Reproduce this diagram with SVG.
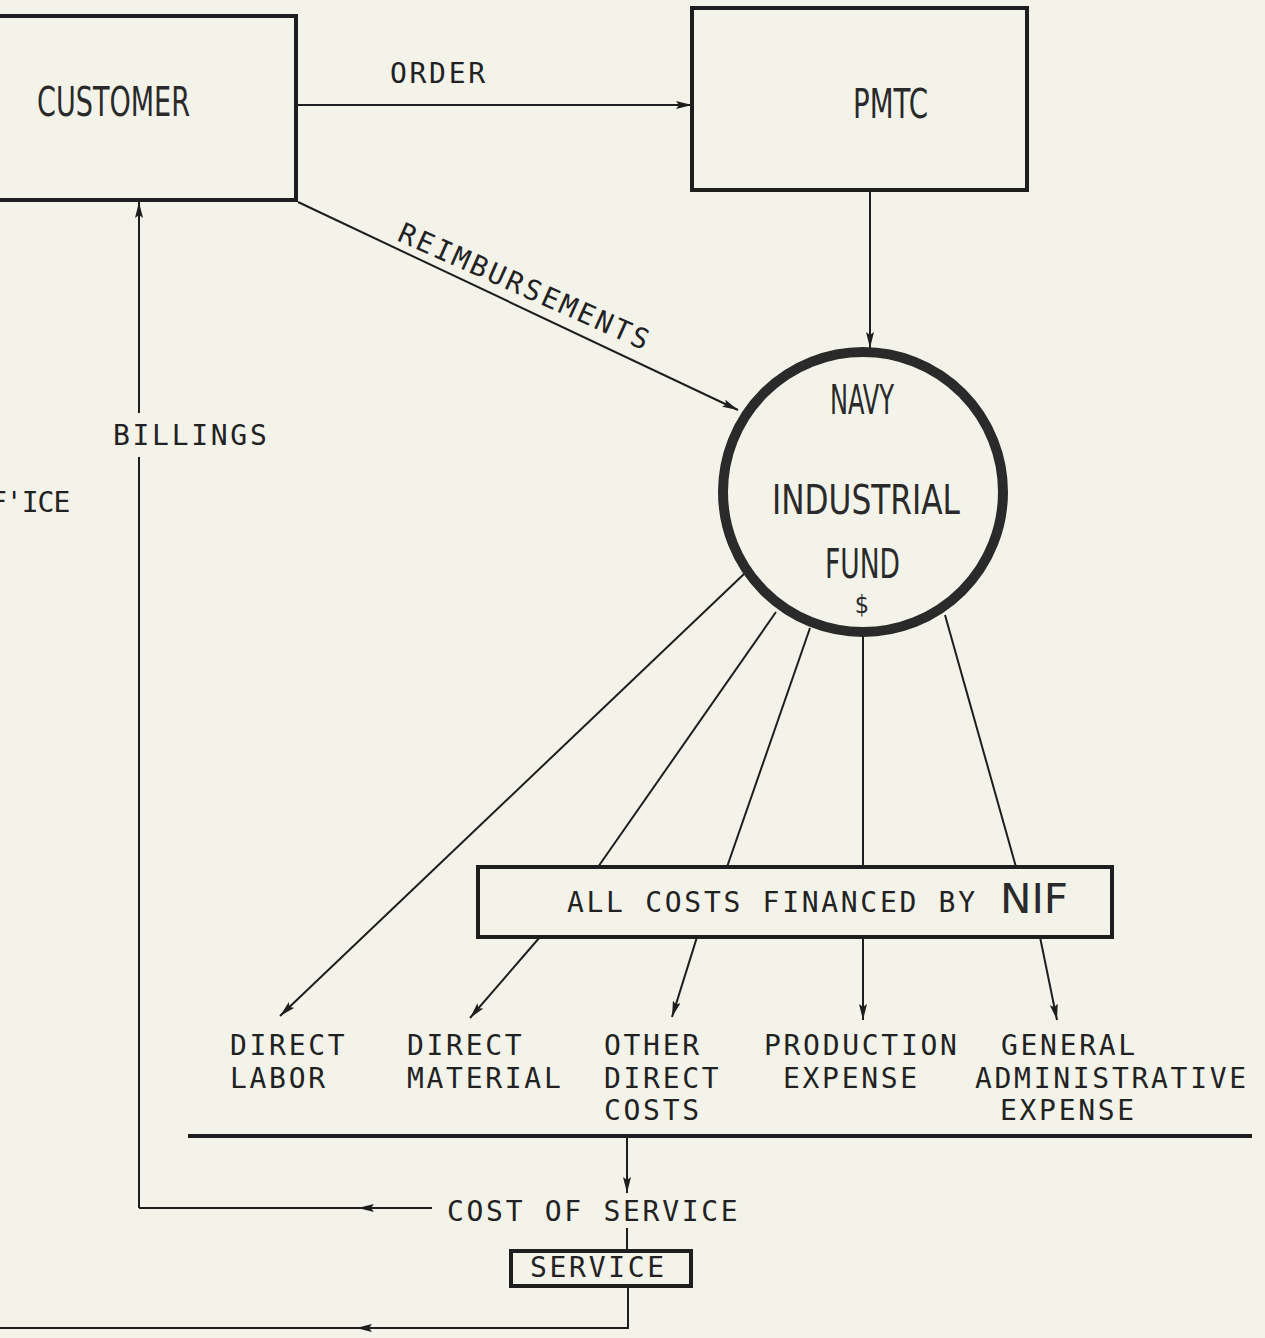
<svg xmlns="http://www.w3.org/2000/svg" width="1265" height="1338" viewBox="0 0 1265 1338">
<defs>
<marker id="ah" markerUnits="userSpaceOnUse" viewBox="0 0 16 8" refX="16" refY="4" markerWidth="16" markerHeight="8" orient="auto">
<path d="M0,0 L16,4 L0,8 L3,4 z" fill="#1e1e1e"/>
</marker>
<style>
.ln{stroke:#1e1e1e;stroke-width:2;fill:none}
.box{stroke:#1e1e1e;stroke-width:4;fill:none}
.mono{font-family:"DejaVu Sans Mono","Liberation Mono",monospace;font-size:28px;letter-spacing:2.7px;fill:#222}
.cond{font-family:"Liberation Sans Narrow","DejaVu Sans Condensed","DejaVu Sans",sans-serif;font-size:40px;fill:#2a2a2a}
</style>
</defs>
<rect width="1265" height="1338" fill="#f3f3ea"/>
<g id="customer">
<path class="box" d="M0,16 H296 V200 H0"/>
<text class="cond" x="37" y="116" textLength="153" lengthAdjust="spacingAndGlyphs">CUSTOMER</text>
</g>
<g id="pmtc">
<rect class="box" x="692" y="8" width="335" height="182"/>
<text class="cond" x="853" y="118" textLength="75" lengthAdjust="spacingAndGlyphs">PMTC</text>
</g>
<g id="nif">
<circle cx="863" cy="492" r="140" fill="none" stroke="#2a2a2a" stroke-width="10"/>
<text class="cond" x="830" y="414" textLength="64" lengthAdjust="spacingAndGlyphs">NAVY</text>
<text class="cond" x="772" y="514" textLength="188" lengthAdjust="spacingAndGlyphs">INDUSTRIAL</text>
<text class="cond" x="825" y="578" textLength="75" lengthAdjust="spacingAndGlyphs">FUND</text>
<text class="cond" x="862" y="613" text-anchor="middle" style="font-size:25px">$</text>
</g>
<g id="costs-box">
<rect class="box" x="478" y="867" width="634" height="70"/>
<text class="mono" x="567" y="912">ALL COSTS FINANCED BY</text>
<text class="cond" x="1000" y="913" textLength="68" lengthAdjust="spacingAndGlyphs">NIF</text>
</g>
<g id="service">
<rect class="box" x="511" y="1251" width="180" height="35"/>
<text class="mono" x="530" y="1277">SERVICE</text>
</g>
<g id="labels">
<text class="mono" x="390" y="83">ORDER</text>
<text class="mono" x="113" y="445">BILLINGS</text>
<text class="mono" x="-10" y="512" style="letter-spacing:-1px">F'ICE</text>
<text class="mono" transform="translate(396,240) rotate(24)">REIMBURSEMENTS</text>
<text class="mono" x="230" y="1055">DIRECT</text>
<text class="mono" x="230" y="1088">LABOR</text>
<text class="mono" x="407" y="1055">DIRECT</text>
<text class="mono" x="407" y="1088">MATERIAL</text>
<text class="mono" x="604" y="1055">OTHER</text>
<text class="mono" x="604" y="1088">DIRECT</text>
<text class="mono" x="604" y="1120">COSTS</text>
<text class="mono" x="764" y="1055">PRODUCTION</text>
<text class="mono" x="783" y="1088">EXPENSE</text>
<text class="mono" x="1001" y="1055">GENERAL</text>
<text class="mono" x="975" y="1088">ADMINISTRATIVE</text>
<text class="mono" x="1000" y="1120">EXPENSE</text>
<text class="mono" x="447" y="1221">COST OF SERVICE</text>
</g>
<g id="connectors">
<line class="ln" x1="296" y1="105" x2="692" y2="105" marker-end="url(#ah)"/>
<line class="ln" x1="870" y1="190" x2="870" y2="348" marker-end="url(#ah)"/>
<line class="ln" x1="298" y1="202" x2="738" y2="410" marker-end="url(#ah)"/>
<line class="ln" x1="139" y1="413" x2="139" y2="202" marker-end="url(#ah)"/>
<line class="ln" x1="139" y1="457" x2="139" y2="1208"/>
<line class="ln" x1="744" y1="574" x2="280" y2="1016" marker-end="url(#ah)"/>
<line class="ln" x1="776" y1="612" x2="598" y2="867"/>
<line class="ln" x1="540" y1="937" x2="470" y2="1018" marker-end="url(#ah)"/>
<line class="ln" x1="810" y1="628" x2="727" y2="867"/>
<line class="ln" x1="697" y1="937" x2="672" y2="1017" marker-end="url(#ah)"/>
<line class="ln" x1="863" y1="636" x2="863" y2="867"/>
<line class="ln" x1="863" y1="937" x2="863" y2="1020" marker-end="url(#ah)"/>
<line class="ln" x1="945" y1="615" x2="1016" y2="867"/>
<line class="ln" x1="1040" y1="937" x2="1057" y2="1020" marker-end="url(#ah)"/>
<line x1="188" y1="1136" x2="1252" y2="1136" stroke="#1e1e1e" stroke-width="4"/>
<line class="ln" x1="627" y1="1136" x2="627" y2="1193" marker-end="url(#ah)"/>
<line class="ln" x1="627" y1="1228" x2="627" y2="1251"/>
<line class="ln" x1="432" y1="1208" x2="358" y2="1208" marker-end="url(#ah)"/>
<line class="ln" x1="358" y1="1208" x2="139" y2="1208"/>
<polyline class="ln" points="628,1286 628,1328 356,1328" marker-end="url(#ah)"/>
<line class="ln" x1="356" y1="1328" x2="0" y2="1328"/>
</g>
</svg>
